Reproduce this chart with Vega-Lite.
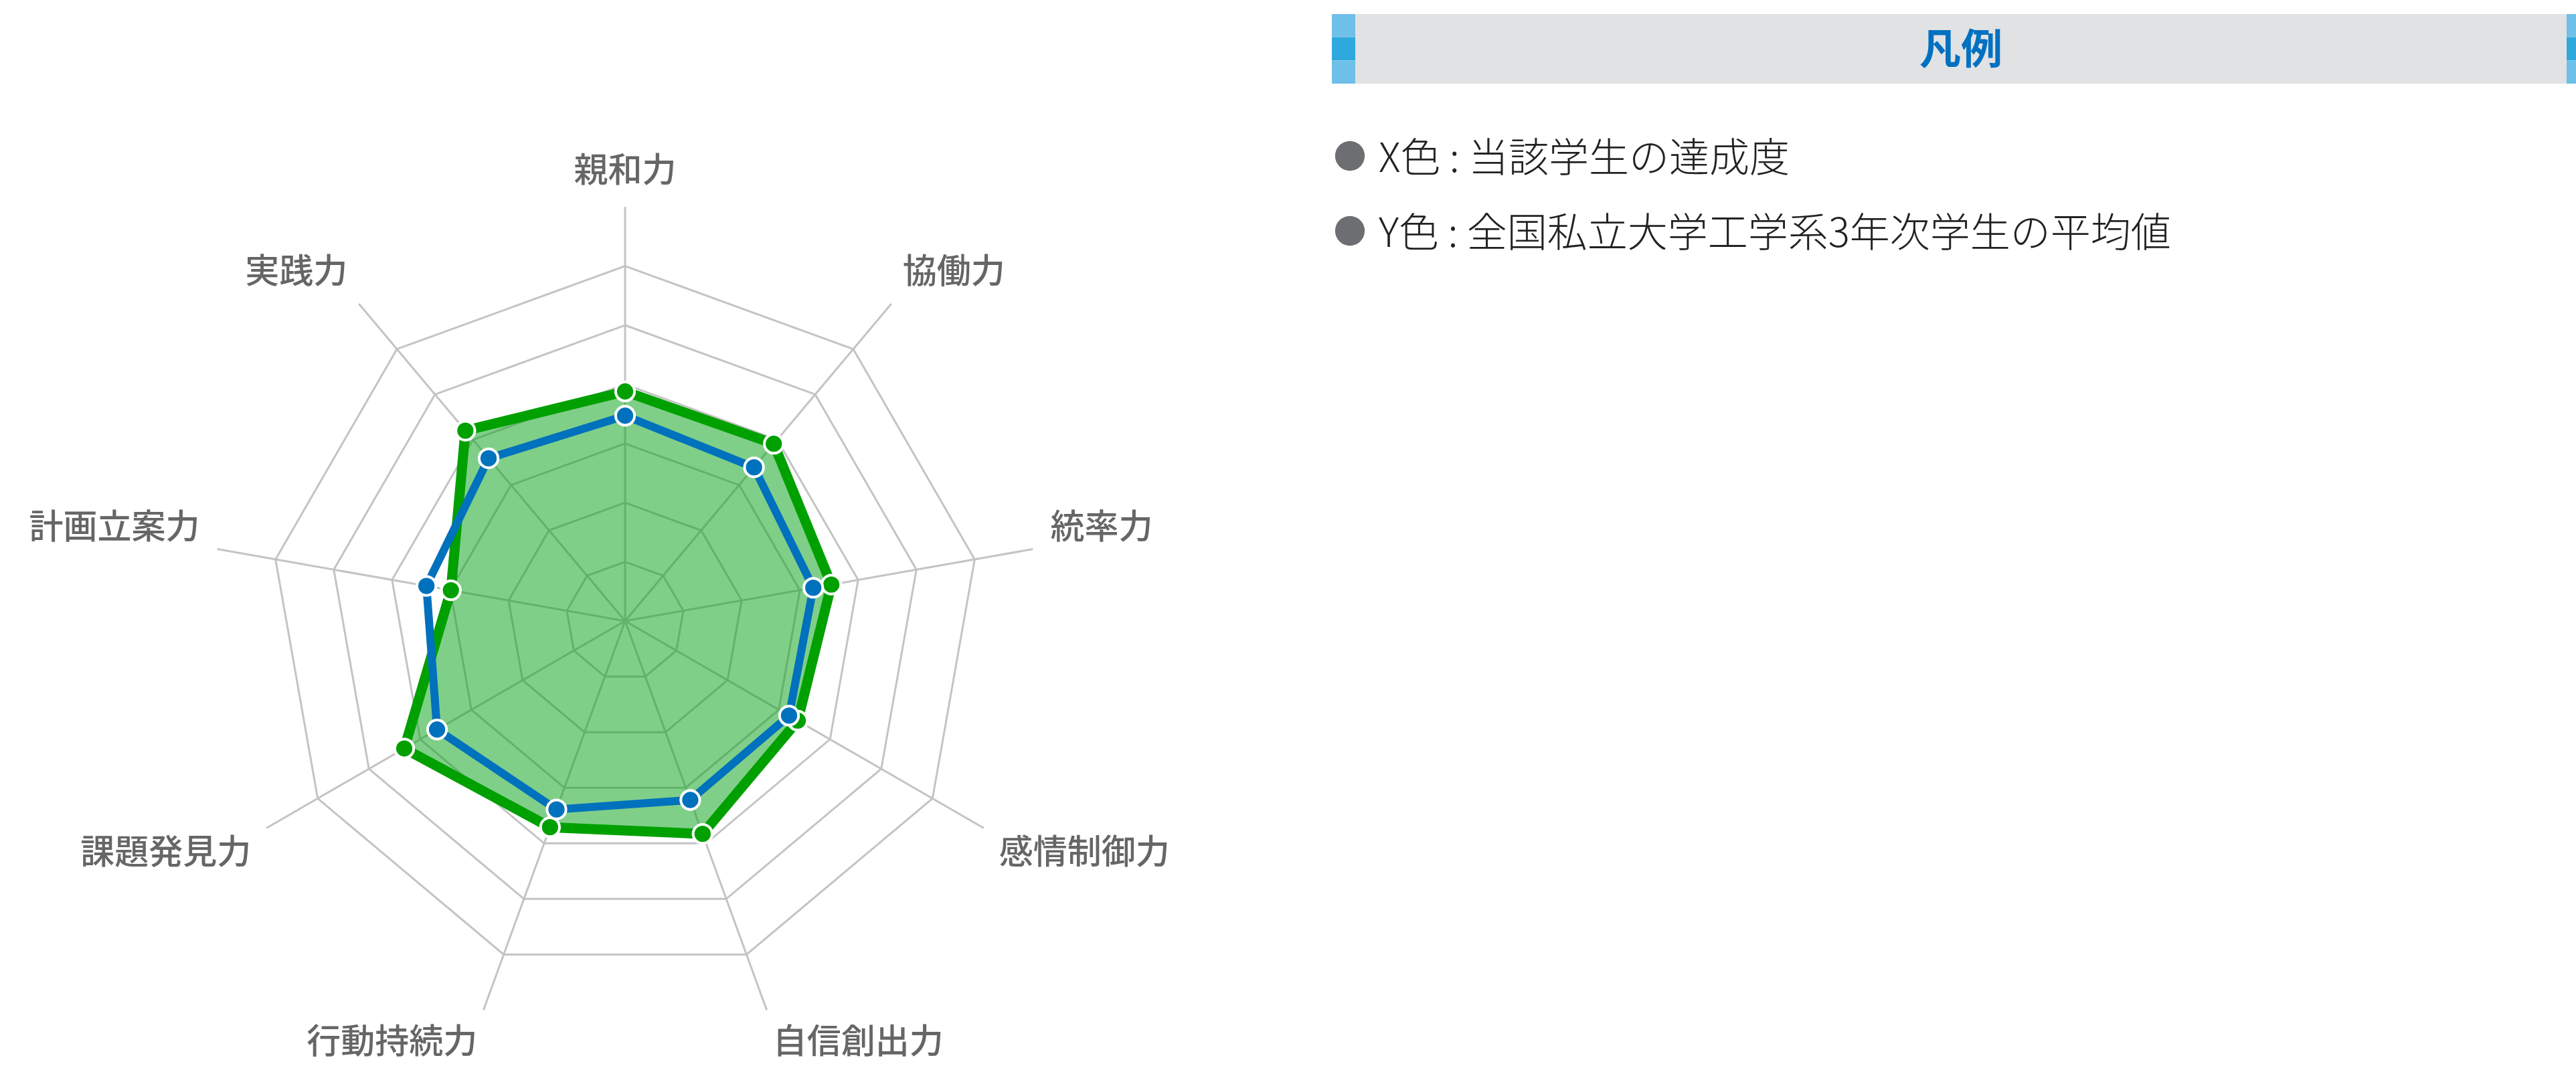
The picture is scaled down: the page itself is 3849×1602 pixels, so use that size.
{
  "$schema": "https://vega.github.io/schema/vega-lite/v6.json",
  "padding": {"left": 0, "right": 0, "top": 21, "bottom": 0},
  "autosize": {"type": "pad"},
  "background": "white",
  "spacing": 0,
  "config": {"view": {"stroke": null}, "concat": {"spacing": 0}},
  "resolve": {"scale": {"x": "independent", "y": "independent", "color": "independent"}},
  "datasets": {
    "scores": [
      {"axis": "親和力", "order": 0, "X": 3.47, "Y": 3.88},
      {"axis": "協働力", "order": 1, "X": 3.39, "Y": 3.91},
      {"axis": "統率力", "order": 2, "X": 3.23, "Y": 3.54},
      {"axis": "感情制御力", "order": 3, "X": 3.20, "Y": 3.37},
      {"axis": "自信創出力", "order": 4, "X": 3.22, "Y": 3.83},
      {"axis": "行動持続力", "order": 5, "X": 3.39, "Y": 3.71},
      {"axis": "課題発見力", "order": 6, "X": 3.67, "Y": 4.31},
      {"axis": "計画立案力", "order": 7, "X": 3.41, "Y": 2.99},
      {"axis": "実践力", "order": 8, "X": 3.59, "Y": 4.20}
    ],
    "grid": [
      {"level": 1, "spokes": [0, 1, 2, 3, 4, 5, 6, 7, 8]},
      {"level": 2, "spokes": [0, 1, 2, 3, 4, 5, 6, 7, 8]},
      {"level": 3, "spokes": [0, 1, 2, 3, 4, 5, 6, 7, 8]},
      {"level": 4, "spokes": [0, 1, 2, 3, 4, 5, 6, 7, 8]},
      {"level": 5, "spokes": [0, 1, 2, 3, 4, 5, 6, 7, 8]},
      {"level": 6, "spokes": [0, 1, 2, 3, 4, 5, 6, 7, 8]}
    ],
    "legendItems": [
      {"key": "X", "label": "X色 : 当該学生の達成度"},
      {"key": "Y", "label": "Y色 : 全国私立大学工学系3年次学生の平均値"}
    ],
    "segments": [{"seg": "top"}, {"seg": "mid"}, {"seg": "bottom"}]
  },
  "hconcat": [
    {
      "width": 1990,
      "height": 1581,
      "data": {"name": "scores"},
      "layer": [
        {
          "data": {"name": "grid"},
          "transform": [
            {"flatten": ["spokes"], "as": ["i"]},
            {"calculate": "datum.level * sin(datum.i * 2 * PI / 9)", "as": "gx"},
            {"calculate": "datum.level * cos(datum.i * 2 * PI / 9)", "as": "gy"}
          ],
          "mark": {"type": "line", "interpolate": "linear-closed", "stroke": "#C4C4C4", "strokeWidth": 3},
          "encoding": {
            "x": {"field": "gx", "type": "quantitative", "axis": null, "scale": {"domain": [-10.566, 11.946], "nice": false, "zero": false}},
            "y": {"field": "gy", "type": "quantitative", "axis": null, "scale": {"domain": [-7.624, 10.26], "nice": false, "zero": false}},
            "detail": {"field": "level", "type": "nominal"},
            "order": {"field": "i", "type": "quantitative"}
          }
        },
        {
          "transform": [
            {"calculate": "7 * sin(datum.order * 2 * PI / 9)", "as": "ex"},
            {"calculate": "7 * cos(datum.order * 2 * PI / 9)", "as": "ey"}
          ],
          "mark": {"type": "rule", "stroke": "#C4C4C4", "strokeWidth": 3},
          "encoding": {
            "x": {"field": "ex", "type": "quantitative", "axis": null, "scale": {"domain": [-10.566, 11.946], "nice": false, "zero": false}},
            "y": {"field": "ey", "type": "quantitative", "axis": null, "scale": {"domain": [-7.624, 10.26], "nice": false, "zero": false}},
            "x2": {"datum": 0},
            "y2": {"datum": 0}
          }
        },
        {
          "transform": [
            {"calculate": "datum.Y * sin(datum.order * 2 * PI / 9)", "as": "px"},
            {"calculate": "datum.Y * cos(datum.order * 2 * PI / 9)", "as": "py"}
          ],
          "mark": {"type": "line", "interpolate": "linear-closed", "fill": "#00A014", "fillOpacity": 0.5, "stroke": "#00A000", "strokeWidth": 15, "strokeJoin": "miter"},
          "encoding": {
            "x": {"field": "px", "type": "quantitative", "axis": null, "scale": {"domain": [-10.566, 11.946], "nice": false, "zero": false}},
            "y": {"field": "py", "type": "quantitative", "axis": null, "scale": {"domain": [-7.624, 10.26], "nice": false, "zero": false}},
            "order": {"field": "order", "type": "quantitative"}
          }
        },
        {
          "transform": [
            {"calculate": "datum.X * sin(datum.order * 2 * PI / 9)", "as": "px"},
            {"calculate": "datum.X * cos(datum.order * 2 * PI / 9)", "as": "py"}
          ],
          "mark": {"type": "line", "interpolate": "linear-closed", "stroke": "#0071BC", "strokeWidth": 12, "strokeJoin": "miter"},
          "encoding": {
            "x": {"field": "px", "type": "quantitative", "axis": null, "scale": {"domain": [-10.566, 11.946], "nice": false, "zero": false}},
            "y": {"field": "py", "type": "quantitative", "axis": null, "scale": {"domain": [-7.624, 10.26], "nice": false, "zero": false}},
            "order": {"field": "order", "type": "quantitative"}
          }
        },
        {
          "transform": [
            {"calculate": "datum.Y * sin(datum.order * 2 * PI / 9)", "as": "px"},
            {"calculate": "datum.Y * cos(datum.order * 2 * PI / 9)", "as": "py"}
          ],
          "mark": {"type": "point", "shape": "circle", "filled": true, "fill": "#00A000", "stroke": "white", "strokeWidth": 4, "size": 800, "opacity": 1},
          "encoding": {
            "x": {"field": "px", "type": "quantitative", "axis": null, "scale": {"domain": [-10.566, 11.946], "nice": false, "zero": false}},
            "y": {"field": "py", "type": "quantitative", "axis": null, "scale": {"domain": [-7.624, 10.26], "nice": false, "zero": false}}
          }
        },
        {
          "transform": [
            {"calculate": "datum.X * sin(datum.order * 2 * PI / 9)", "as": "px"},
            {"calculate": "datum.X * cos(datum.order * 2 * PI / 9)", "as": "py"}
          ],
          "mark": {"type": "point", "shape": "circle", "filled": true, "fill": "#0071BC", "stroke": "white", "strokeWidth": 4, "size": 800, "opacity": 1},
          "encoding": {
            "x": {"field": "px", "type": "quantitative", "axis": null, "scale": {"domain": [-10.566, 11.946], "nice": false, "zero": false}},
            "y": {"field": "py", "type": "quantitative", "axis": null, "scale": {"domain": [-7.624, 10.26], "nice": false, "zero": false}}
          }
        },
        {
          "transform": [
            {"calculate": "7.3 * sin(datum.order * 2 * PI / 9)", "as": "lx"},
            {"calculate": "7.3 * cos(datum.order * 2 * PI / 9)", "as": "ly"}
          ],
          "mark": {
            "type": "text",
            "font": "Noto Sans CJK JP",
            "fontSize": 51,
            "fontWeight": 500,
            "fill": "#666666",
            "align": {"expr": "datum.order == 0 ? 'center' : (datum.order <= 4 ? 'left' : 'right')"},
            "baseline": {"expr": "(datum.order >= 3 && datum.order <= 6) ? 'top' : 'bottom'"}
          },
          "encoding": {
            "x": {"field": "lx", "type": "quantitative", "axis": null, "scale": {"domain": [-10.566, 11.946], "nice": false, "zero": false}},
            "y": {"field": "ly", "type": "quantitative", "axis": null, "scale": {"domain": [-7.624, 10.26], "nice": false, "zero": false}},
            "text": {"field": "axis"}
          }
        }
      ]
    },
    {
      "spacing": 52,
      "vconcat": [
        {
          "spacing": 0,
          "hconcat": [
            {
              "width": 35,
              "height": 104,
              "data": {"name": "segments"},
              "mark": {"type": "rect"},
              "encoding": {
                "y": {"field": "seg", "type": "nominal", "sort": null, "axis": null, "scale": {"paddingInner": 0, "paddingOuter": 0}},
                "color": {"field": "seg", "type": "nominal", "legend": null, "scale": {"domain": ["top", "mid", "bottom"], "range": ["#6EC0E8", "#2FA8DE", "#6EC0E8"]}}
              }
            },
            {
              "width": 1810,
              "height": 104,
              "view": {"fill": "#E1E2E4", "stroke": null},
              "data": {"values": [{"title": "凡例"}]},
              "mark": {"type": "text", "font": "Noto Sans CJK JP", "fontSize": 62, "fontWeight": "bold", "fill": "#0070C0", "baseline": "middle", "dy": 4},
              "encoding": {"text": {"field": "title", "type": "nominal"}}
            },
            {
              "width": 14,
              "height": 104,
              "data": {"name": "segments"},
              "mark": {"type": "rect"},
              "encoding": {
                "y": {"field": "seg", "type": "nominal", "sort": null, "axis": null, "scale": {"paddingInner": 0, "paddingOuter": 0}},
                "color": {"field": "seg", "type": "nominal", "legend": null, "scale": {"domain": ["top", "mid", "bottom"], "range": ["#6EC0E8", "#2FA8DE", "#6EC0E8"]}}
              }
            }
          ]
        },
        {
          "spacing": 15,
          "hconcat": [
            {
              "width": 54,
              "height": 224,
              "data": {"name": "legendItems"},
              "mark": {"type": "point", "shape": "circle", "filled": true, "fill": "#6D6E72", "size": 1960, "opacity": 1},
              "encoding": {
                "y": {"field": "key", "type": "nominal", "axis": null, "scale": {"type": "point", "padding": 0.5}}
              }
            },
            {
              "width": 2,
              "height": 224,
              "data": {"name": "legendItems"},
              "mark": {"type": "text", "font": "Noto Sans CJK JP", "fontSize": 60, "fontWeight": 300, "fill": "#222222", "align": "left", "baseline": "middle", "dy": 6},
              "encoding": {
                "y": {"field": "key", "type": "nominal", "axis": null, "scale": {"type": "point", "padding": 0.5}},
                "text": {"field": "label", "type": "nominal"}
              }
            }
          ]
        }
      ]
    }
  ]
}
